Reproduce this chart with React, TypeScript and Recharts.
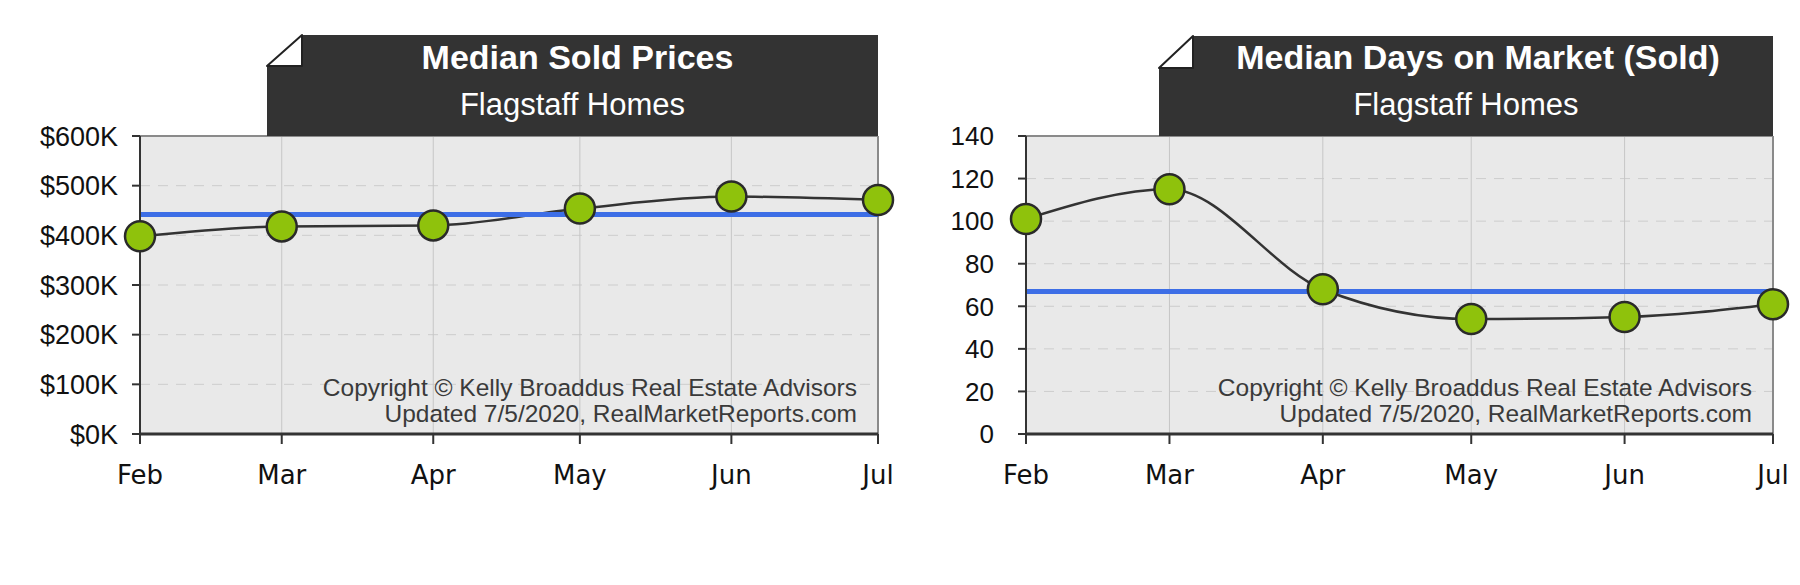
import React from 'react';
import { LineChart, Line, XAxis, YAxis, CartesianGrid, ReferenceLine } from 'recharts';

const MONTHS = ['Feb', 'Mar', 'Apr', 'May', 'Jun', 'Jul'];
const MONTH_STARTS = ['2020-02-01', '2020-03-01', '2020-04-01', '2020-05-01', '2020-06-01', '2020-07-01'];

const SOLD_PRICES = [398000, 418000, 420000, 454000, 478000, 471000];
const AVG_SOLD_PRICE = 442000;
const PRICE_TICKS = [0, 100000, 200000, 300000, 400000, 500000, 600000];

const DAYS_ON_MARKET = [101, 115, 68, 54, 55, 61];
const AVG_DAYS_ON_MARKET = 67;
const DOM_TICKS = [0, 20, 40, 60, 80, 100, 120, 140];

const SUBTITLE = 'Flagstaff Homes';
const COPYRIGHT = 'Copyright \u00A9 Kelly Broaddus Real Estate Advisors';
const UPDATED = 'Updated 7/5/2020, RealMarketReports.com';

const CHART_W = 900;
const CHART_H = 585;
const SANS = '"Liberation Sans", Arial, Helvetica, sans-serif';

// days since Feb 1 -> months are spaced by their real length
const DAY_OFFSETS = MONTH_STARTS.map(d => (Date.parse(d) - Date.parse(MONTH_STARTS[0])) / 86400000);

interface TrendChartProps {
  title: string;
  titleDx: number;
  values: number[];
  average: number;
  yTicks: number[];
  yFormat: (v: number) => string;
  yFontSize: number;
  yAxisWidth: number;
  yTickMargin: number;
  marginRight: number;
  box: { left: number; right: number; top: number; foldX: number; foldY: number };
}

const TrendChart: React.FC<TrendChartProps> = ({
  title, titleDx, values, average, yTicks, yFormat, yFontSize, yAxisWidth, yTickMargin, marginRight, box
}) => {
  const data = values.map((v, i) => ({ day: DAY_OFFSETS[i], month: MONTHS[i], value: v }));
  const lastDay = DAY_OFFSETS[DAY_OFFSETS.length - 1];
  const plotTop = 136;
  const plotRight = CHART_W - marginRight;
  const boxCenter = (box.left + box.right) / 2;

  return (
    <div style={{ position: 'relative', width: CHART_W, height: CHART_H }}>
      <LineChart
        width={CHART_W}
        height={CHART_H}
        data={data}
        margin={{ top: plotTop, right: marginRight, bottom: 91, left: 10 }}
      >
        <CartesianGrid vertical={false} fill="#e9e9e9" stroke="#cdcdcd" strokeDasharray="10 8" />
        <CartesianGrid horizontal={false} stroke="#c6c6c6" />
        <XAxis
          type="number"
          dataKey="day"
          domain={[0, lastDay]}
          ticks={DAY_OFFSETS}
          interval={0}
          tickFormatter={(v: number) => MONTHS[DAY_OFFSETS.indexOf(v)]}
          height={60}
          tickSize={10}
          tickMargin={22}
          axisLine={{ stroke: '#333', strokeWidth: 3 }}
          tickLine={{ stroke: '#333', strokeWidth: 2 }}
          tick={{ fill: '#111', fontSize: 26, fontFamily: '"DejaVu Sans", Verdana, sans-serif' }}
        />
        <YAxis
          domain={[yTicks[0], yTicks[yTicks.length - 1]]}
          ticks={yTicks}
          interval={0}
          tickFormatter={yFormat}
          width={yAxisWidth}
          tickSize={8}
          tickMargin={yTickMargin}
          axisLine={{ stroke: '#333', strokeWidth: 2 }}
          tickLine={{ stroke: '#333', strokeWidth: 2 }}
          tick={{ fill: '#111', fontSize: yFontSize, fontFamily: SANS }}
        />
        <ReferenceLine y={yTicks[yTicks.length - 1]} stroke="#8a8a8a" strokeWidth={2} />
        <ReferenceLine x={lastDay} stroke="#8a8a8a" strokeWidth={2} />
        <Line
          type="monotone"
          dataKey="value"
          stroke="#333"
          strokeWidth={2.5}
          dot={{ r: 15, fill: '#8fc20c', stroke: '#2a2a2a', strokeWidth: 2.5 }}
          activeDot={false}
          isAnimationActive={false}
        />
        <ReferenceLine y={average} stroke="#3d6ee6" strokeWidth={5} />
      </LineChart>

      {/* title tab with the folded corner, plus the copyright note */}
      <svg
        width={CHART_W}
        height={CHART_H}
        style={{ position: 'absolute', left: 0, top: 0, pointerEvents: 'none' }}
      >
        <polygon
          points={`${box.foldX},${box.top} ${box.right},${box.top} ${box.right},${plotTop} ${box.left},${plotTop} ${box.left},${box.foldY}`}
          fill="#333333"
        />
        <polygon
          points={`${box.left},${box.foldY} ${box.foldX},${box.top} ${box.foldX},${box.foldY}`}
          fill="#fff"
          stroke="#222"
          strokeWidth={2}
          strokeLinejoin="round"
        />
        <text x={boxCenter + titleDx} y={69} textAnchor="middle" fill="#fff" fontFamily={SANS} fontWeight="bold" fontSize={34}>
          {title}
        </text>
        <text x={boxCenter} y={115} textAnchor="middle" fill="#fff" fontFamily={SANS} fontSize={31}>
          {SUBTITLE}
        </text>
        <text x={plotRight - 21} y={396} textAnchor="end" fill="#3a3a3a" fontFamily={SANS} fontSize={24.5}>
          {COPYRIGHT}
        </text>
        <text x={plotRight - 21} y={422} textAnchor="end" fill="#3a3a3a" fontFamily={SANS} fontSize={24.5}>
          {UPDATED}
        </text>
      </svg>
    </div>
  );
};

const App: React.FC = () => (
  <div style={{ position: 'absolute', left: 0, top: 0, width: 1800, height: 585, background: '#fff', display: 'flex' }}>
    <TrendChart
      title="Median Sold Prices"
      titleDx={5}
      values={SOLD_PRICES}
      average={AVG_SOLD_PRICE}
      yTicks={PRICE_TICKS}
      yFormat={(v) => `$${v / 1000}K`}
      yFontSize={27}
      yAxisWidth={130}
      yTickMargin={14}
      marginRight={22}
      box={{ left: 267, right: 878, top: 35, foldX: 302, foldY: 66 }}
    />
    <TrendChart
      title="Median Days on Market (Sold)"
      titleDx={12}
      values={DAYS_ON_MARKET}
      average={AVG_DAYS_ON_MARKET}
      yTicks={DOM_TICKS}
      yFormat={(v) => `${v}`}
      yFontSize={26}
      yAxisWidth={116}
      yTickMargin={24}
      marginRight={27}
      box={{ left: 259, right: 873, top: 36, foldX: 293, foldY: 68 }}
    />
  </div>
);

export default App;
